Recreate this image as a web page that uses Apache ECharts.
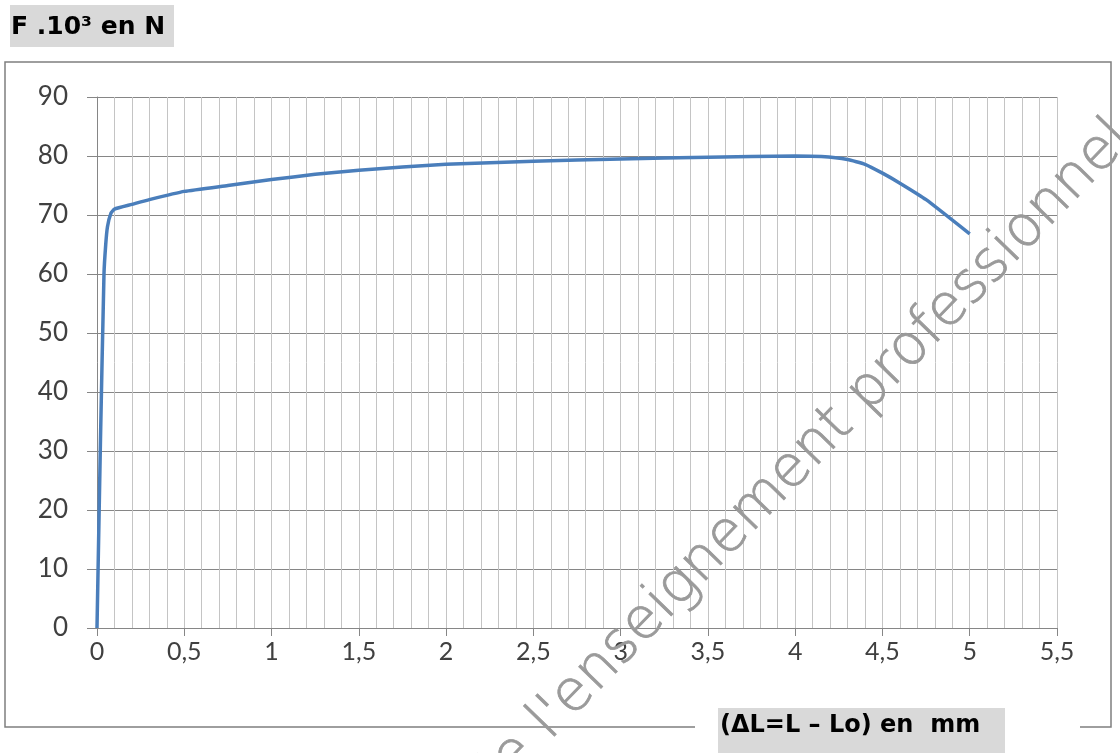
<!DOCTYPE html>
<html>
<head>
<meta charset="utf-8">
<script src="https://cdn.jsdelivr.net/npm/echarts@6/dist/echarts.min.js"></script>
<style>
  html, body { margin: 0; padding: 0; background: #fff; }
  #chart { width: 1120px; height: 753px; }
</style>
</head>
<body>
<div id="chart"></div>
<script>
// allongement (mm) et force (x10^3 N)
var allongement = [0, 0.02, 0.04, 0.05, 0.06, 0.08, 0.1, 0.2, 0.3, 0.5, 0.75, 1, 1.25, 1.5, 2, 2.5, 3, 3.5, 4, 4.15, 4.3, 4.4, 4.5, 4.6, 4.75, 5];
var force = [0, 32, 60, 65, 68, 70.3, 71, 71.8, 72.6, 74, 75, 76, 76.9, 77.6, 78.6, 79.1, 79.5, 79.8, 80, 79.9, 79.4, 78.6, 77.1, 75.4, 72.6, 66.8];

var xTicks = { min: 0, max: 5.5, step: 0.5 };
var yTicks = { min: 0, max: 90, step: 10 };

var points = allongement.map(function (x, i) { return [x, force[i]]; });

var chart = echarts.init(document.getElementById('chart'));

function virgule(v) {
  return String(Math.round(v * 10) / 10).replace('.', ',');
}

chart.setOption({
  backgroundColor: '#fff',
  animation: false,
  grid: { left: 97, right: 63, top: 97, bottom: 125 },
  xAxis: {
    type: 'value',
    min: xTicks.min,
    max: xTicks.max,
    interval: xTicks.step,
    axisLine: { show: true, lineStyle: { color: '#868686', width: 1 } },
    axisTick: { show: true, length: 8, lineStyle: { color: '#868686' } },
    axisLabel: {
      color: '#404040',
      fontFamily: 'Lato',
      fontSize: 25,
      margin: 11,
      formatter: virgule
    },
    splitLine: { show: true, lineStyle: { color: '#c4c4c4', width: 1 } },
    minorTick: { show: false, splitNumber: 5 },
    minorSplitLine: { show: true, lineStyle: { color: '#c4c4c4', width: 1 } }
  },
  yAxis: {
    type: 'value',
    min: yTicks.min,
    max: yTicks.max,
    interval: yTicks.step,
    axisLine: { show: true, lineStyle: { color: '#868686', width: 1 } },
    axisTick: { show: true, length: 10, lineStyle: { color: '#868686' } },
    axisLabel: {
      color: '#404040',
      fontFamily: 'Lato',
      fontSize: 26,
      margin: 29
    },
    splitLine: { show: true, lineStyle: { color: '#868686', width: 1 } }
  },
  graphic: [
    // cadre du graphique
    {
      type: 'rect',
      shape: { x: 5, y: 62, width: 1106, height: 665 },
      style: { fill: 'none', stroke: '#7f7f7f', lineWidth: 1.5 },
      z: 1
    },
    // titre axe Y
    {
      type: 'rect',
      shape: { x: 10, y: 5, width: 164, height: 42 },
      style: { fill: '#d9d9d9' },
      z: 2
    },
    {
      type: 'text',
      left: 11,
      top: 15,
      style: {
        text: 'F .10³ en N',
        fontFamily: 'DejaVu Sans',
        fontWeight: 'bold',
        fontSize: 25,
        fill: '#000'
      },
      z: 3
    },
    // titre axe X
    {
      type: 'rect',
      shape: { x: 695, y: 712, width: 385, height: 30 },
      style: { fill: '#fff' },
      z: 2
    },
    {
      type: 'rect',
      shape: { x: 718, y: 708, width: 287, height: 45 },
      style: { fill: '#d9d9d9' },
      z: 2
    },
    {
      type: 'text',
      left: 720,
      top: 714,
      style: {
        text: '(ΔL=L – Lo) en  mm',
        fontFamily: 'DejaVu Sans',
        fontWeight: 'bold',
        fontSize: 24,
        fill: '#000'
      },
      z: 3
    },
    // filigrane
    {
      type: 'text',
      x: 800,
      y: 462,
      rotation: 0.8,
      style: {
        text: "de l'enseignement professionnel",
        fontFamily: 'DejaVu Sans',
        fontWeight: 200,
        fontSize: 57,
        fill: '#9a9a9a',
        stroke: '#9a9a9a',
        lineWidth: 0.8,
        align: 'center',
        verticalAlign: 'middle'
      },
      z: 10
    }
  ],
  series: [
    {
      type: 'line',
      data: points,
      showSymbol: false,
      smooth: 0.15,
      lineStyle: { color: '#4a7ebb', width: 3.5 },
      z: 5
    }
  ]
});
</script>
</body>
</html>
